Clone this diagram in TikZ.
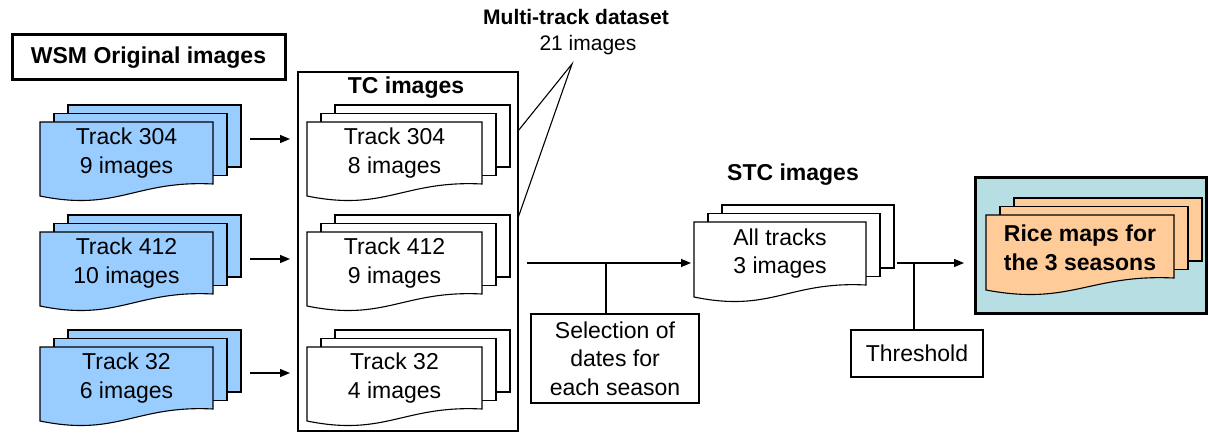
\documentclass[tikz,border=0pt]{standalone}
\usepackage{fontspec}
\setmainfont{Liberation Sans}
\usetikzlibrary{arrows.meta}
\definecolor{docblue}{HTML}{99CCFF}
\definecolor{docorange}{HTML}{FFCC99}
\definecolor{ricebg}{HTML}{B7DFE3}
\tikzset{
  txt/.style={inner sep=0pt, align=center, font=\fontsize{23}{28.5}\selectfont},
  btxt/.style={inner sep=0pt, align=center, font=\fontsize{23}{28.5}\selectfont\bfseries},
  sheet/.style={draw=black, line width=1.1pt, line join=miter},
  thin/.style={draw=black, line width=1.1pt},
  thick/.style={draw=black, line width=3pt},
  arr/.style={draw=black, line width=1.3pt, -{Triangle[length=10pt,width=8pt]}},
}
\newcommand{\sheetstack}[7]{%
  \foreach \k in {2,1} {\path[sheet, fill=#6] ({#2+14*\k},{#3-8.5*\k}) rectangle ({#2+14*\k+#4},{#3-8.5*\k+#5});}
  \path[sheet, fill=#6] (#2,#3) -- ({#2+#4},#3) -- ({#2+#4},{#3+#5})
     .. controls ({#2+0.55*#4},{#3+#5-4}) and ({#2+0.45*#4},{#3+#5+28}) .. (#2,{#3+#5+12}) -- cycle;
  \node[txt] (#1) at ({#2+#4/2},{#3+#5/2}) {#7};
}
\begin{document}
\begin{tikzpicture}[x=1pt,y=-1pt]
\useasboundingbox (0,0) rectangle (1209,433);

% WSM title box
\draw[thick] (12,35) rectangle (285,80);
\node[btxt] (wsm) at (148.5,57.5) {WSM Original images};

% TC big box
\draw[thin] (298,72) rectangle (518,431);
\node[btxt] (tct) at (406,88) {TC images};

% Multi-track dataset label and callout
\node[inner sep=0pt, font=\fontsize{21}{26}\selectfont\bfseries] (mt) at (576,17) {Multi-track dataset};
\node[inner sep=0pt, font=\fontsize{21}{26}\selectfont] (mtn) at (588,45) {21 images};
\coordinate (apex) at (572,64);
\coordinate (c1) at (518,131);
\coordinate (c2) at (518,218);
\draw[thin] (c1) -- (apex) -- (c2);

% Blue stacks
\sheetstack{b304}{40}{122}{173}{62}{docblue}{Track 304\\9 images}
\sheetstack{b412}{40}{232}{173}{62}{docblue}{Track 412\\10 images}
\sheetstack{b32}{40}{347}{173}{62}{docblue}{Track 32\\6 images}

% TC stacks
\sheetstack{t304}{307}{122}{175}{62}{white}{Track 304\\8 images}
\sheetstack{t412}{307}{232}{175}{62}{white}{Track 412\\9 images}
\sheetstack{t32}{307}{347}{175}{62}{white}{Track 32\\4 images}

% arrows blue -> TC
\coordinate (a1s) at (250,139); \coordinate (a1e) at (290,139);
\coordinate (a2s) at (250,259); \coordinate (a2e) at (290,259);
\coordinate (a3s) at (250,373); \coordinate (a3e) at (290,373);
\draw[arr] (a1s) -- (a1e);
\draw[arr] (a2s) -- (a2e);
\draw[arr] (a3s) -- (a3e);

% STC
\node[btxt] (stct) at (793,175) {STC images};
\sheetstack{stc}{694}{222}{172}{63}{white}{All tracks\\3 images}

% Selection
\draw[thin] (531,314) rectangle (699,403);
\node[txt] (sel) at (615,358.5) {Selection of\\dates for\\each season};
\coordinate (m1s) at (527,263); \coordinate (m1e) at (691,263);
\coordinate (m1j) at (606,263); \coordinate (m1b) at (606,314);
\draw[arr] (m1s) -- (m1e);
\draw[thin] (m1j) -- (m1b);

% Threshold
\draw[thin] (851,330) rectangle (983,377);
\node[txt] (thr) at (917,353.5) {Threshold};
\coordinate (m2s) at (897,263); \coordinate (m2e) at (964,263);
\coordinate (m2j) at (914,263); \coordinate (m2b) at (914,330);
\draw[arr] (m2s) -- (m2e);
\draw[thin] (m2j) -- (m2b);

% Rice maps box
\path[thick, fill=ricebg] (975,177) rectangle (1206,313);
\sheetstack{rice}{986}{215}{188}{63}{docorange}{}
\node[btxt] (ricet) at (1080,248) {Rice maps for\\the 3 seasons};
\end{tikzpicture}
\end{document}
